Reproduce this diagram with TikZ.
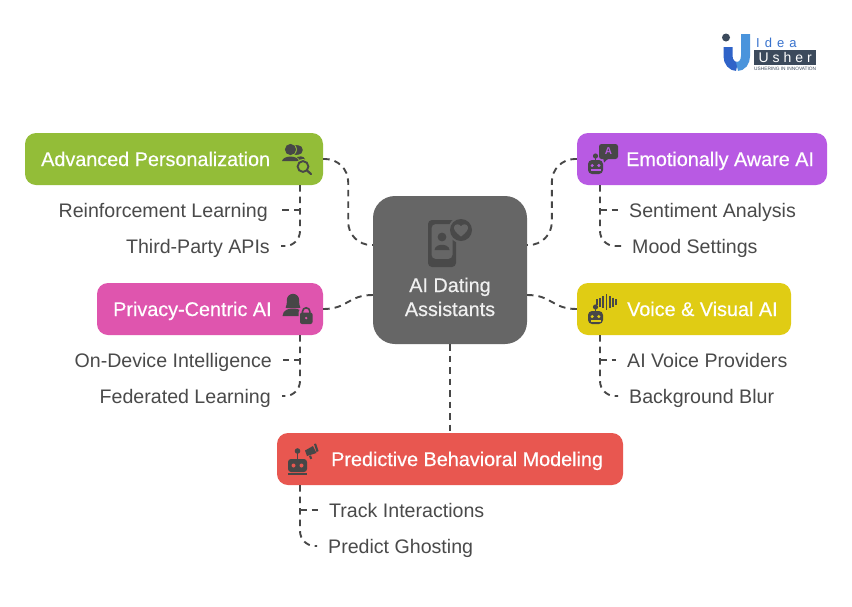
\documentclass[tikz,border=0pt]{standalone}
\usepackage{fontspec}
\setmainfont{Liberation Sans}
\newfontfamily\medfont[FakeBold=0.5]{Liberation Sans}
\usetikzlibrary{calc}
\definecolor{ink}{HTML}{474747}
\definecolor{leaftxt}{HTML}{4A4A4A}
\definecolor{cgreen}{HTML}{93BD38}
\definecolor{cpurple}{HTML}{B85AE3}
\definecolor{cpink}{HTML}{DF55AE}
\definecolor{cyellow}{HTML}{E0CC14}
\definecolor{cred}{HTML}{E85750}
\definecolor{cgrey}{HTML}{666666}
\definecolor{lnavy}{HTML}{3C4A5C}
\definecolor{lblue}{HTML}{4A94DC}
\definecolor{ldblue}{HTML}{2F63C8}
\tikzset{
 box/.style={draw=none,rounded corners=11pt,inner sep=0pt,minimum height=52pt},
 headtxt/.style={text=white,inner sep=0pt,text height=14pt,text depth=0pt,font=\medfont\fontsize{19.8}{24}\selectfont},
 leaf/.style={text=leaftxt,inner ysep=0pt,inner xsep=11pt,text height=14pt,text depth=0pt,font=\fontsize{19.6}{24}\selectfont},
 conn/.style={draw=ink,line width=1.9pt,dash pattern=on 6.5pt off 5pt},
}
% robot: #1 x of left edge, #2 y of head top, #3 knock-out colour, #4 head height
\newcommand\robotico[4]{%
 \fill[ink] (#1+7.5,#2-3) circle (2.6);
 \draw[ink,line width=1.4pt] (#1+7.5,#2-2) -- (#1+7.5,#2+2);
 \fill[ink,rounded corners=4pt] (#1,#2+#4) -- (#1,#2+1) -- (#1+15,#2+1) -- (#1+15,#2+#4) -- cycle;
 \fill[#3] (#1+4.2,#2+6.5) circle (1.7) (#1+10.8,#2+6.5) circle (1.7);
 \fill[#3] (#1+2.5,#2+10.2) rectangle (#1+12.5,#2+11.6);
}
\begin{document}
\begin{tikzpicture}[x=1pt,y=-1pt]
\useasboundingbox (0,0) rectangle (852,606);
\fill[white] (0,0) rectangle (852,606);

\node[box,fill=cgrey,rounded corners=22pt,minimum width=154pt,minimum height=148pt] (ctr) at (450,270) {};
\node[box,fill=cgreen,minimum width=298pt] (adv) at (174,159) {};
\node[box,fill=cpurple,minimum width=250pt] (emo) at (702,159) {};
\node[box,fill=cpink,minimum width=226pt] (pri) at (210,309) {};
\node[box,fill=cyellow,minimum width=214pt] (voi) at (684,309) {};
\node[box,fill=cred,minimum width=346pt] (pre) at (450,459) {};

\node[headtxt,anchor=west] (advt) at (41,159) {Advanced Personalization};
\node[headtxt,anchor=west] (emot) at (626,159) {Emotionally Aware AI};
\node[headtxt,anchor=west] (prit) at (113,309) {Privacy-Centric AI};
\node[headtxt,anchor=west] (voit) at (627,309) {Voice \& Visual AI};
\node[headtxt,anchor=west] (pret) at (331,459) {Predictive Behavioral Modeling};
\node[inner sep=0pt,text=white!94!black,font=\medfont\fontsize{19.8}{24}\selectfont,text height=14pt,text depth=0pt] (ctrt1) at (450,285) {AI Dating};
\node[inner sep=0pt,text=white!94!black,font=\medfont\fontsize{19.8}{24}\selectfont,text height=14pt,text depth=0pt] (ctrt2) at (450,309) {Assistants};

\node[leaf,anchor=east] (l1) at (279,210) {Reinforcement Learning};
\node[leaf,anchor=east] (l2) at (281,246) {Third-Party APIs};
\node[leaf,anchor=east] (l3) at (283,360) {On-Device Intelligence};
\node[leaf,anchor=east] (l4) at (282,396) {Federated Learning};
\node[leaf,anchor=west] (r1) at (618,210) {Sentiment Analysis};
\node[leaf,anchor=west] (r2) at (621,246) {Mood Settings};
\node[leaf,anchor=west] (r3) at (616,360) {AI Voice Providers};
\node[leaf,anchor=west] (r4) at (618,396) {Background Blur};
\node[leaf,anchor=west] (b1) at (318,510) {Track Interactions};
\node[leaf,anchor=west] (b2) at (317,546) {Predict Ghosting};

% hub connectors
\draw[conn,rounded corners=23pt] (adv.east) -- ++(25,0) |- ([yshift=25pt]ctr.west);
\draw[conn,rounded corners=23pt] (emo.west) -- ++(-25,0) |- ([yshift=25pt]ctr.east);
\draw[conn] (pri.east) .. controls +(25,0) and +(-25,0) .. ([yshift=-25pt]ctr.west);
\draw[conn] (voi.west) .. controls +(-25,0) and +(25,0) .. ([yshift=-25pt]ctr.east);
\draw[conn] (ctr.south) -- (pre.north);

% leaf connectors
\draw[conn,rounded corners=15pt] ([xshift=126pt]adv.south) |- (l2.east);
\draw[conn] ([xshift=126pt]adv.south |- l1.east) -- (l1.east);
\draw[conn,rounded corners=15pt] ([xshift=90pt]pri.south) |- (l4.east);
\draw[conn] ([xshift=90pt]pri.south |- l3.east) -- (l3.east);
\draw[conn,rounded corners=15pt] ([xshift=-102pt]emo.south) |- (r2.west);
\draw[conn] ([xshift=-102pt]emo.south |- r1.west) -- (r1.west);
\draw[conn,rounded corners=15pt] ([xshift=-84pt]voi.south) |- (r4.west);
\draw[conn] ([xshift=-84pt]voi.south |- r3.west) -- (r3.west);
\draw[conn,rounded corners=15pt] ([xshift=-150pt]pre.south) |- (b2.west);
\draw[conn] ([xshift=-150pt]pre.south |- b1.west) -- (b1.west);

% --- centre icon: phone with person and heart
\fill[ink!92!cgrey,rounded corners=4pt,even odd rule]
   (428,220) rectangle (456,267)
   (431.5,224) rectangle (452.5,259);
\fill[cgrey] (461,230) circle (13);
\fill[ink!92!cgrey] (461,230) circle (11);
\fill[cgrey] (461,236.5) .. controls (455,232) and (453.5,229) .. (454,227)
   .. controls (455,223.5) and (459.5,223.5) .. (461,226.5)
   .. controls (462.5,223.5) and (467,223.5) .. (468,227)
   .. controls (468.5,229) and (467,232) .. (461,236.5) -- cycle;
\fill[ink!92!cgrey] (442,237) circle (4.4);
\fill[ink!92!cgrey] (434.5,250) .. controls (435,243) and (449,243) .. (449.5,250) -- cycle;

% --- advanced personalization icon: people + magnifier
\fill[ink] (296,150) circle (5);
\fill[ink] (298,150) circle (4.8);
\fill[ink] (297,157) .. controls (303,155) and (306,158) .. (305,162) -- (297,162) -- cycle;
\fill[cgreen] (290.5,149.5) circle (6.4);
\fill[ink] (290.5,149.5) circle (5.6);
\fill[cgreen] (281,161.5) .. controls (282,154) and (299,154) .. (300,161.5) -- (300,163) -- (281,163) -- cycle;
\fill[ink] (282,161.2) .. controls (283,155) and (298,155) .. (299,161.2) -- cycle;
\fill[cgreen] (303,167) circle (8);
\draw[ink,line width=1.9pt] (303,166.5) circle (5.4);
\draw[ink,line width=2.2pt,line cap=round] (307,170.5) -- (311,174);

% --- emotionally aware icon
\robotico{588}{159}{cpurple}{15}
\fill[ink,rounded corners=2.5pt] (599,144) rectangle (618,159);
\fill[ink] (603,157) -- (610,157) -- (604,162.5) -- cycle;
\node[inner sep=0pt,text=cpurple,font=\bfseries\fontsize{10}{10}\selectfont] (emoa) at (608.5,151.5) {A};

% --- privacy icon: person + lock
\fill[ink] (293,300) circle (6.2);
\fill[ink] (287,301) .. controls (287,307) and (284,308) .. (287,308) -- (299,308) .. controls (302,308) and (299,307) .. (299,301) -- cycle;
\fill[ink] (282.5,316) .. controls (283,310) and (288,308.5) .. (293,308.5) .. controls (298,308.5) and (303,310) .. (303.5,316) -- cycle;
\fill[cpink,rounded corners=3pt] (298.5,309.5) rectangle (314,326);
\fill[ink,rounded corners=2pt] (300,312.5) rectangle (312.5,324);
\draw[ink,line width=1.6pt] (302.5,313) -- (302.5,311.5) arc (-180:0:3.7) -- (309.9,313);
\fill[cpink] (306.2,318) circle (1.3);

% --- voice icon: robot + waves
\robotico{588}{310}{cyellow}{14}
\foreach \xx/\hh in {597/3,600/4.5,603/6,606.5/8,610/6,613/4.5,616/3}
  \draw[ink,line width=1.7pt] (\xx,302-\hh) -- (\xx,302+\hh);

% --- predictive icon: robot + megaphone
\fill[ink] (297.5,451) circle (2.8);
\draw[ink,line width=1.5pt] (297.5,452) -- (297.5,460);
\fill[ink,rounded corners=3pt] (288,472) -- (288,459) -- (307,459) -- (307,472) -- cycle;
\fill[cred] (293.5,465.5) circle (2) (301.5,465.5) circle (2);
\fill[ink] (288,473) rectangle (307,474.8);
\fill[ink] (305,450.5) -- (313,446) -- (316.5,453) -- (307,456) -- cycle;
\fill[ink] (314,444) -- (316,443.5) -- (318.5,451) -- (316.5,452) -- cycle;
\fill[ink] (309,456) -- (311,455.4) -- (312.2,458.6) -- (310.2,459.2) -- cycle;

% --- logo
\fill[lnavy] (726,37.5) circle (4);
\draw[ldblue,line width=9pt] (728,47) -- (728,56) .. controls (728,62) and (732,66.5) .. (737,66.5);
\draw[lblue,line width=9pt] (745.5,34) -- (745.5,56) .. controls (745.5,62) and (742,66.5) .. (737,66.5);
\node[inner sep=0pt,anchor=west,text=ldblue!70!lblue,font=\fontsize{13}{13}\selectfont] (logo1) at (756,43) {I\hspace{5pt}d\hspace{5pt}e\hspace{5pt}a};
\node[anchor=west,fill=lnavy,text=white,inner xsep=1.5pt,inner ysep=0pt,minimum width=62pt,minimum height=15pt,font=\fontsize{14}{14}\selectfont] (logo2) at (754,57.5) {U\hspace{4pt}s\hspace{4pt}h\hspace{4pt}e\hspace{4pt}r};
\node[inner sep=0pt,anchor=west,text=lnavy,font=\fontsize{4.8}{5}\selectfont] (logo3) at (754,68.7) {USHERING IN INNOVATION};
\end{tikzpicture}
\end{document}
